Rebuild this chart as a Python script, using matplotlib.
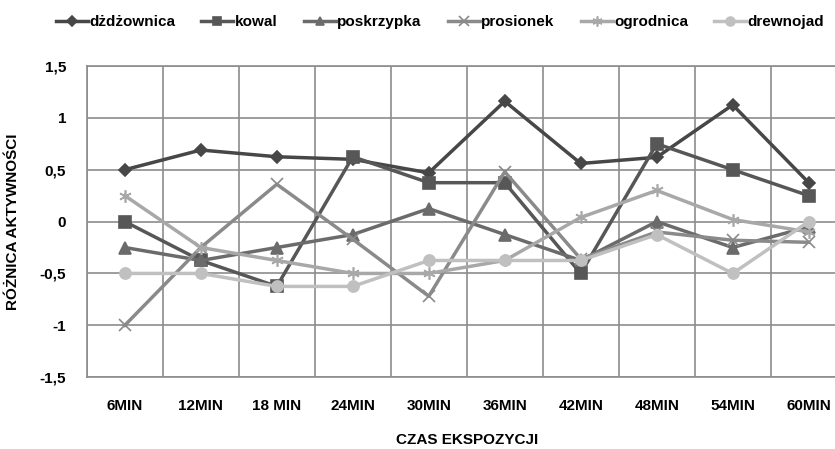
import matplotlib.pyplot as plt

# czas ekspozycji
labels = ['6MIN', '12MIN', '18 MIN', '24MIN', '30MIN', '36MIN', '42MIN', '48MIN', '54MIN', '60MIN']

dzdzownica = [0.5, 0.69, 0.625, 0.6, 0.47, 1.16, 0.56, 0.62, 1.125, 0.375]
kowal = [0.0, -0.375, -0.625, 0.625, 0.375, 0.375, -0.5, 0.75, 0.5, 0.25]
poskrzypka = [-0.25, -0.375, -0.25, -0.125, 0.125, -0.125, -0.375, 0.0, -0.25, -0.05]
prosionek = [-1.0, -0.25, 0.36, -0.17, -0.72, 0.48, -0.36, -0.1, -0.18, -0.2]
ogrodnica = [0.25, -0.25, -0.375, -0.5, -0.5, -0.375, 0.04, 0.3, 0.02, -0.1]
drewnojad = [-0.5, -0.5, -0.625, -0.625, -0.375, -0.375, -0.375, -0.125, -0.5, 0.0]

series = [
    ('dżdżownica', dzdzownica, '#474747', 'D', 6),
    ('kowal', kowal, '#575757', 's', 8),
    ('poskrzypka', poskrzypka, '#6b6b6b', '^', 8),
    ('prosionek', prosionek, '#8a8a8a', 'x', 9),
    ('ogrodnica', ogrodnica, '#a8a8a8', (6, 2, 0), 9),
    ('drewnojad', drewnojad, '#c0c0c0', 'o', 8),
]

plt.rcParams['font.family'] = ['Liberation Sans', 'DejaVu Sans']

fig = plt.figure(figsize=(8.35, 4.49), dpi=100)
ax = fig.add_axes([0.104, 0.160, 0.910, 0.693])

x = list(range(len(labels)))
for name, vals, color, marker, ms in series:
    ax.plot(x, vals, color=color, marker=marker, markersize=ms, linewidth=2.5,
            markeredgewidth=1.2, label=name)

ax.set_xlim(-0.5, len(labels) - 0.5)
ax.set_ylim(-1.5, 1.5)
ax.set_yticks([-1.5, -1, -0.5, 0, 0.5, 1, 1.5])
ax.set_yticklabels(['-1,5', '-1', '-0,5', '0', '0,5', '1', '1,5'], fontweight='bold', fontsize=11)
ax.set_xticks(x)
ax.set_xticklabels(labels, fontweight='bold', fontsize=11)
ax.set_xticks([i - 0.5 for i in range(len(labels) + 1)], minor=True)
ax.tick_params(axis='both', which='both', length=0)
ax.tick_params(axis='x', pad=16)
ax.tick_params(axis='y', pad=15)
ax.grid(True, which='minor', axis='x', color='#8c8c8c', linewidth=1.2)
ax.grid(True, which='major', axis='y', color='#8c8c8c', linewidth=1.2)
for s in ax.spines.values():
    s.set_color('#8c8c8c')
    s.set_linewidth(1.2)

ax.set_xlabel('CZAS EKSPOZYCJI', fontweight='bold', fontsize=11, labelpad=14)
ax.set_ylabel('RÓŻNICA AKTYWNOŚCI', fontweight='bold', fontsize=11, labelpad=14)

leg = fig.legend(loc='upper center', bbox_to_anchor=(0.527, 1.0), ncol=6, frameon=False,
                 prop={'weight': 'bold', 'size': 11}, handlelength=2.1, handletextpad=0.1,
                 columnspacing=1.7, borderaxespad=0.6, markerscale=0.8)

fig.savefig('out.png', dpi=100)
